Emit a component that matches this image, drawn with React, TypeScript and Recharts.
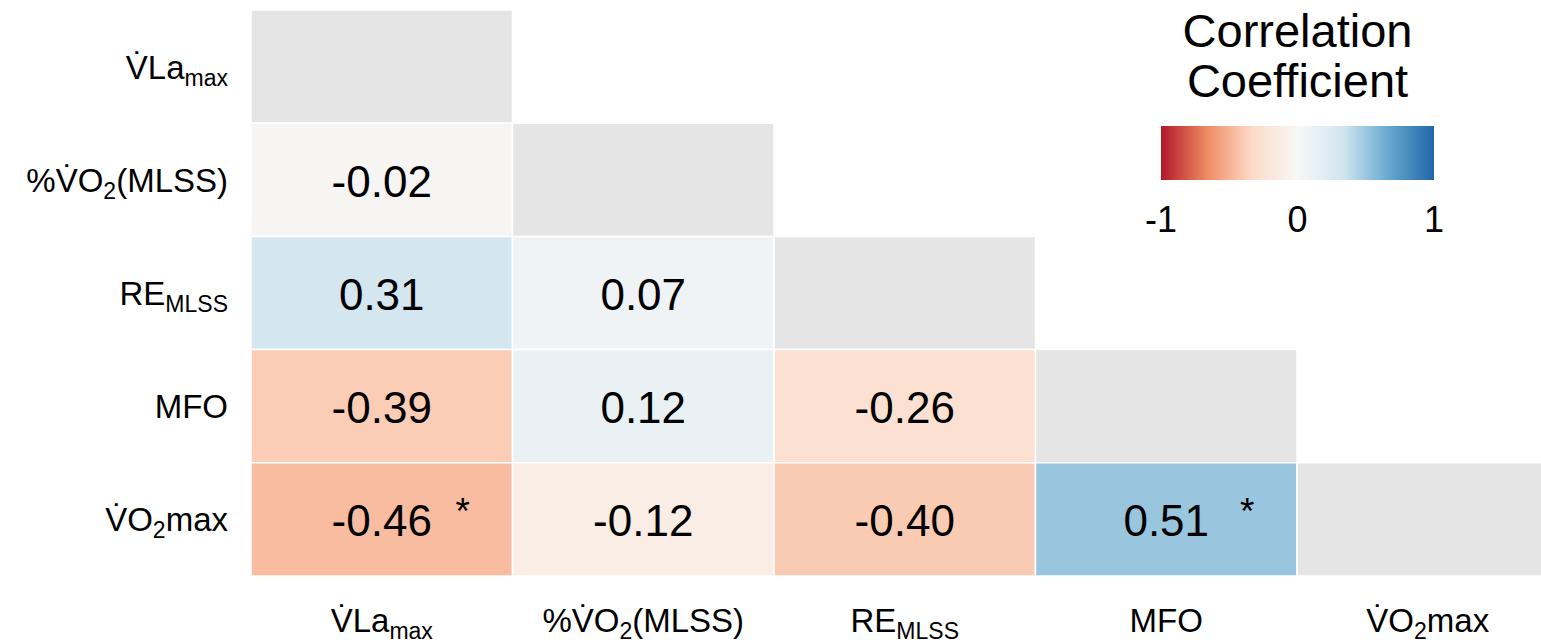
import { ScatterChart, Scatter, XAxis, YAxis, ReferenceArea } from "recharts"

// Variables, top-to-bottom on the rows and left-to-right on the columns.
// Each label is split into main text, subscript and trailing text.
const variables = [
  { main: "V\u0307La", sub: "max", tail: "" },
  { main: "%V\u0307O", sub: "2", tail: "(MLSS)" },
  { main: "RE", sub: "MLSS", tail: "" },
  { main: "MFO", sub: "", tail: "" },
  { main: "V\u0307O", sub: "2", tail: "max" },
]

// Lower-triangle Pearson r, one array per row (columns 0..row-1)
const rPctVO2 = [-0.02]
const rRE = [0.31, 0.07]
const rMFO = [-0.39, 0.12, -0.26]
const rVO2max = [-0.46, -0.12, -0.4, 0.51]
const sigVO2max = [true, false, false, true]

const rowValues = [[], rPctVO2, rRE, rMFO, rVO2max]
const rowSig = [[], [], [], [], sigVO2max]

const colorbarTicks = [-1, 0, 1]

const RDBU = ["#b2182b", "#ef8a62", "#fddbc7", "#f7f7f7", "#d1e5f0", "#67a9cf", "#2166ac"]
const DIAG = "#e5e5e5"
const FONT = "'Liberation Sans', Arial, Helvetica, sans-serif"

function hexToRgb(h: string) {
  const n = parseInt(h.slice(1), 16)
  return [(n >> 16) & 255, (n >> 8) & 255, n & 255]
}

function rdbu(v: number) {
  const t = ((v + 1) / 2) * (RDBU.length - 1)
  const i = Math.min(Math.max(Math.floor(t), 0), RDBU.length - 2)
  const f = t - i
  const a = hexToRgb(RDBU[i])
  const b = hexToRgb(RDBU[i + 1])
  const c = a.map((x, k) => Math.round(x + (b[k] - x) * f))
  return `rgb(${c[0]},${c[1]},${c[2]})`
}

interface CellPoint {
  x: number
  y: number
  r: number
  sig: boolean
}

const points: CellPoint[] = []
rowValues.forEach((vals, row) =>
  vals.forEach((r, col) => points.push({ x: col + 0.5, y: row + 0.5, r, sig: !!rowSig[row][col] }))
)

function Label({ v, size, subSize, shift }: { v: (typeof variables)[number]; size: number; subSize: number; shift: number }) {
  return (
    <>
      <tspan fontSize={size}>{v.main}</tspan>
      {v.sub && (
        <tspan fontSize={subSize} dy={shift}>
          {v.sub}
        </tspan>
      )}
      {v.tail && (
        <tspan fontSize={size} dy={v.sub ? -shift : 0}>
          {v.tail}
        </tspan>
      )}
    </>
  )
}

function XTick(props: any) {
  const { x, y, payload } = props
  const v = variables[Math.floor(payload.value)]
  return (
    <text x={x} y={y} dy={24} textAnchor="middle" fill="#000" fontFamily={FONT}>
      <Label v={v} size={33} subSize={23} shift={7} />
    </text>
  )
}

function YTick(props: any) {
  const { x, y, payload } = props
  const v = variables[Math.floor(payload.value)]
  return (
    <text x={x} y={y} dy={12} textAnchor="end" fill="#000" fontFamily={FONT}>
      <Label v={v} size={33} subSize={23} shift={7} />
    </text>
  )
}

function ValueShape(props: any) {
  const { cx, cy, payload } = props
  return (
    <g fontFamily={FONT} fill="#000">
      <text x={cx} y={cy + 17} textAnchor="middle" fontSize={44}>
        {payload.r.toFixed(2)}
      </text>
      {payload.sig && (
        <text x={cx + 81} y={cy + 5} textAnchor="middle" fontSize={37}>
          *
        </text>
      )}
    </g>
  )
}

function ColorBar() {
  const x0 = 1161
  const w = 273
  return (
    <svg width={1541} height={260} style={{ position: "absolute", left: 0, top: 0 }}>
      <defs>
        <linearGradient id="rdbuBar" x1="0" y1="0" x2="1" y2="0">
          {RDBU.map((c, i) => (
            <stop key={i} offset={i / (RDBU.length - 1)} stopColor={c} />
          ))}
        </linearGradient>
      </defs>
      <g fontFamily={FONT} fill="#000" textAnchor="middle">
        <text x={x0 + w / 2} y={47} fontSize={47}>
          Correlation
        </text>
        <text x={x0 + w / 2} y={97} fontSize={47}>
          Coefficient
        </text>
        <rect x={x0} y={126} width={w} height={54} fill="url(#rdbuBar)" />
        {colorbarTicks.map((t) => (
          <text key={t} x={x0 + ((t + 1) / 2) * w} y={232} fontSize={36}>
            {t}
          </text>
        ))}
      </g>
    </svg>
  )
}

export default function App() {
  const cells: JSX.Element[] = []
  variables.forEach((_, row) => {
    for (let col = 0; col <= row; col++) {
      const fill = col === row ? DIAG : rdbu(rowValues[row][col])
      cells.push(
        <ReferenceArea
          key={`${row}-${col}`}
          x1={col}
          x2={col + 1}
          y1={row}
          y2={row + 1}
          fill={fill}
          fillOpacity={1}
          stroke="#ffffff"
          strokeWidth={1.5}
          ifOverflow="visible"
        />
      )
    }
  })

  return (
    <div style={{ position: "fixed", left: 0, top: 0, width: 1541, height: 643, overflow: "hidden", background: "#fff" }}>
      <ScatterChart width={1560} height={643} margin={{ top: 10, right: 1.5, bottom: 0, left: 0 }}>
        <XAxis
          type="number"
          dataKey="x"
          domain={[0, 5]}
          ticks={[0.5, 1.5, 2.5, 3.5, 4.5]}
          tick={<XTick />}
          axisLine={false}
          tickLine={false}
          tickSize={0}
          tickMargin={32}
          height={67}
          interval={0}
        />
        <YAxis
          type="number"
          dataKey="y"
          domain={[0, 5]}
          reversed
          ticks={[0.5, 1.5, 2.5, 3.5, 4.5]}
          tick={<YTick />}
          axisLine={false}
          tickLine={false}
          tickSize={0}
          tickMargin={23}
          width={251}
          interval={0}
        />
        {cells}
        <Scatter data={points} shape={<ValueShape />} isAnimationActive={false} />
      </ScatterChart>
      <ColorBar />
    </div>
  )
}
